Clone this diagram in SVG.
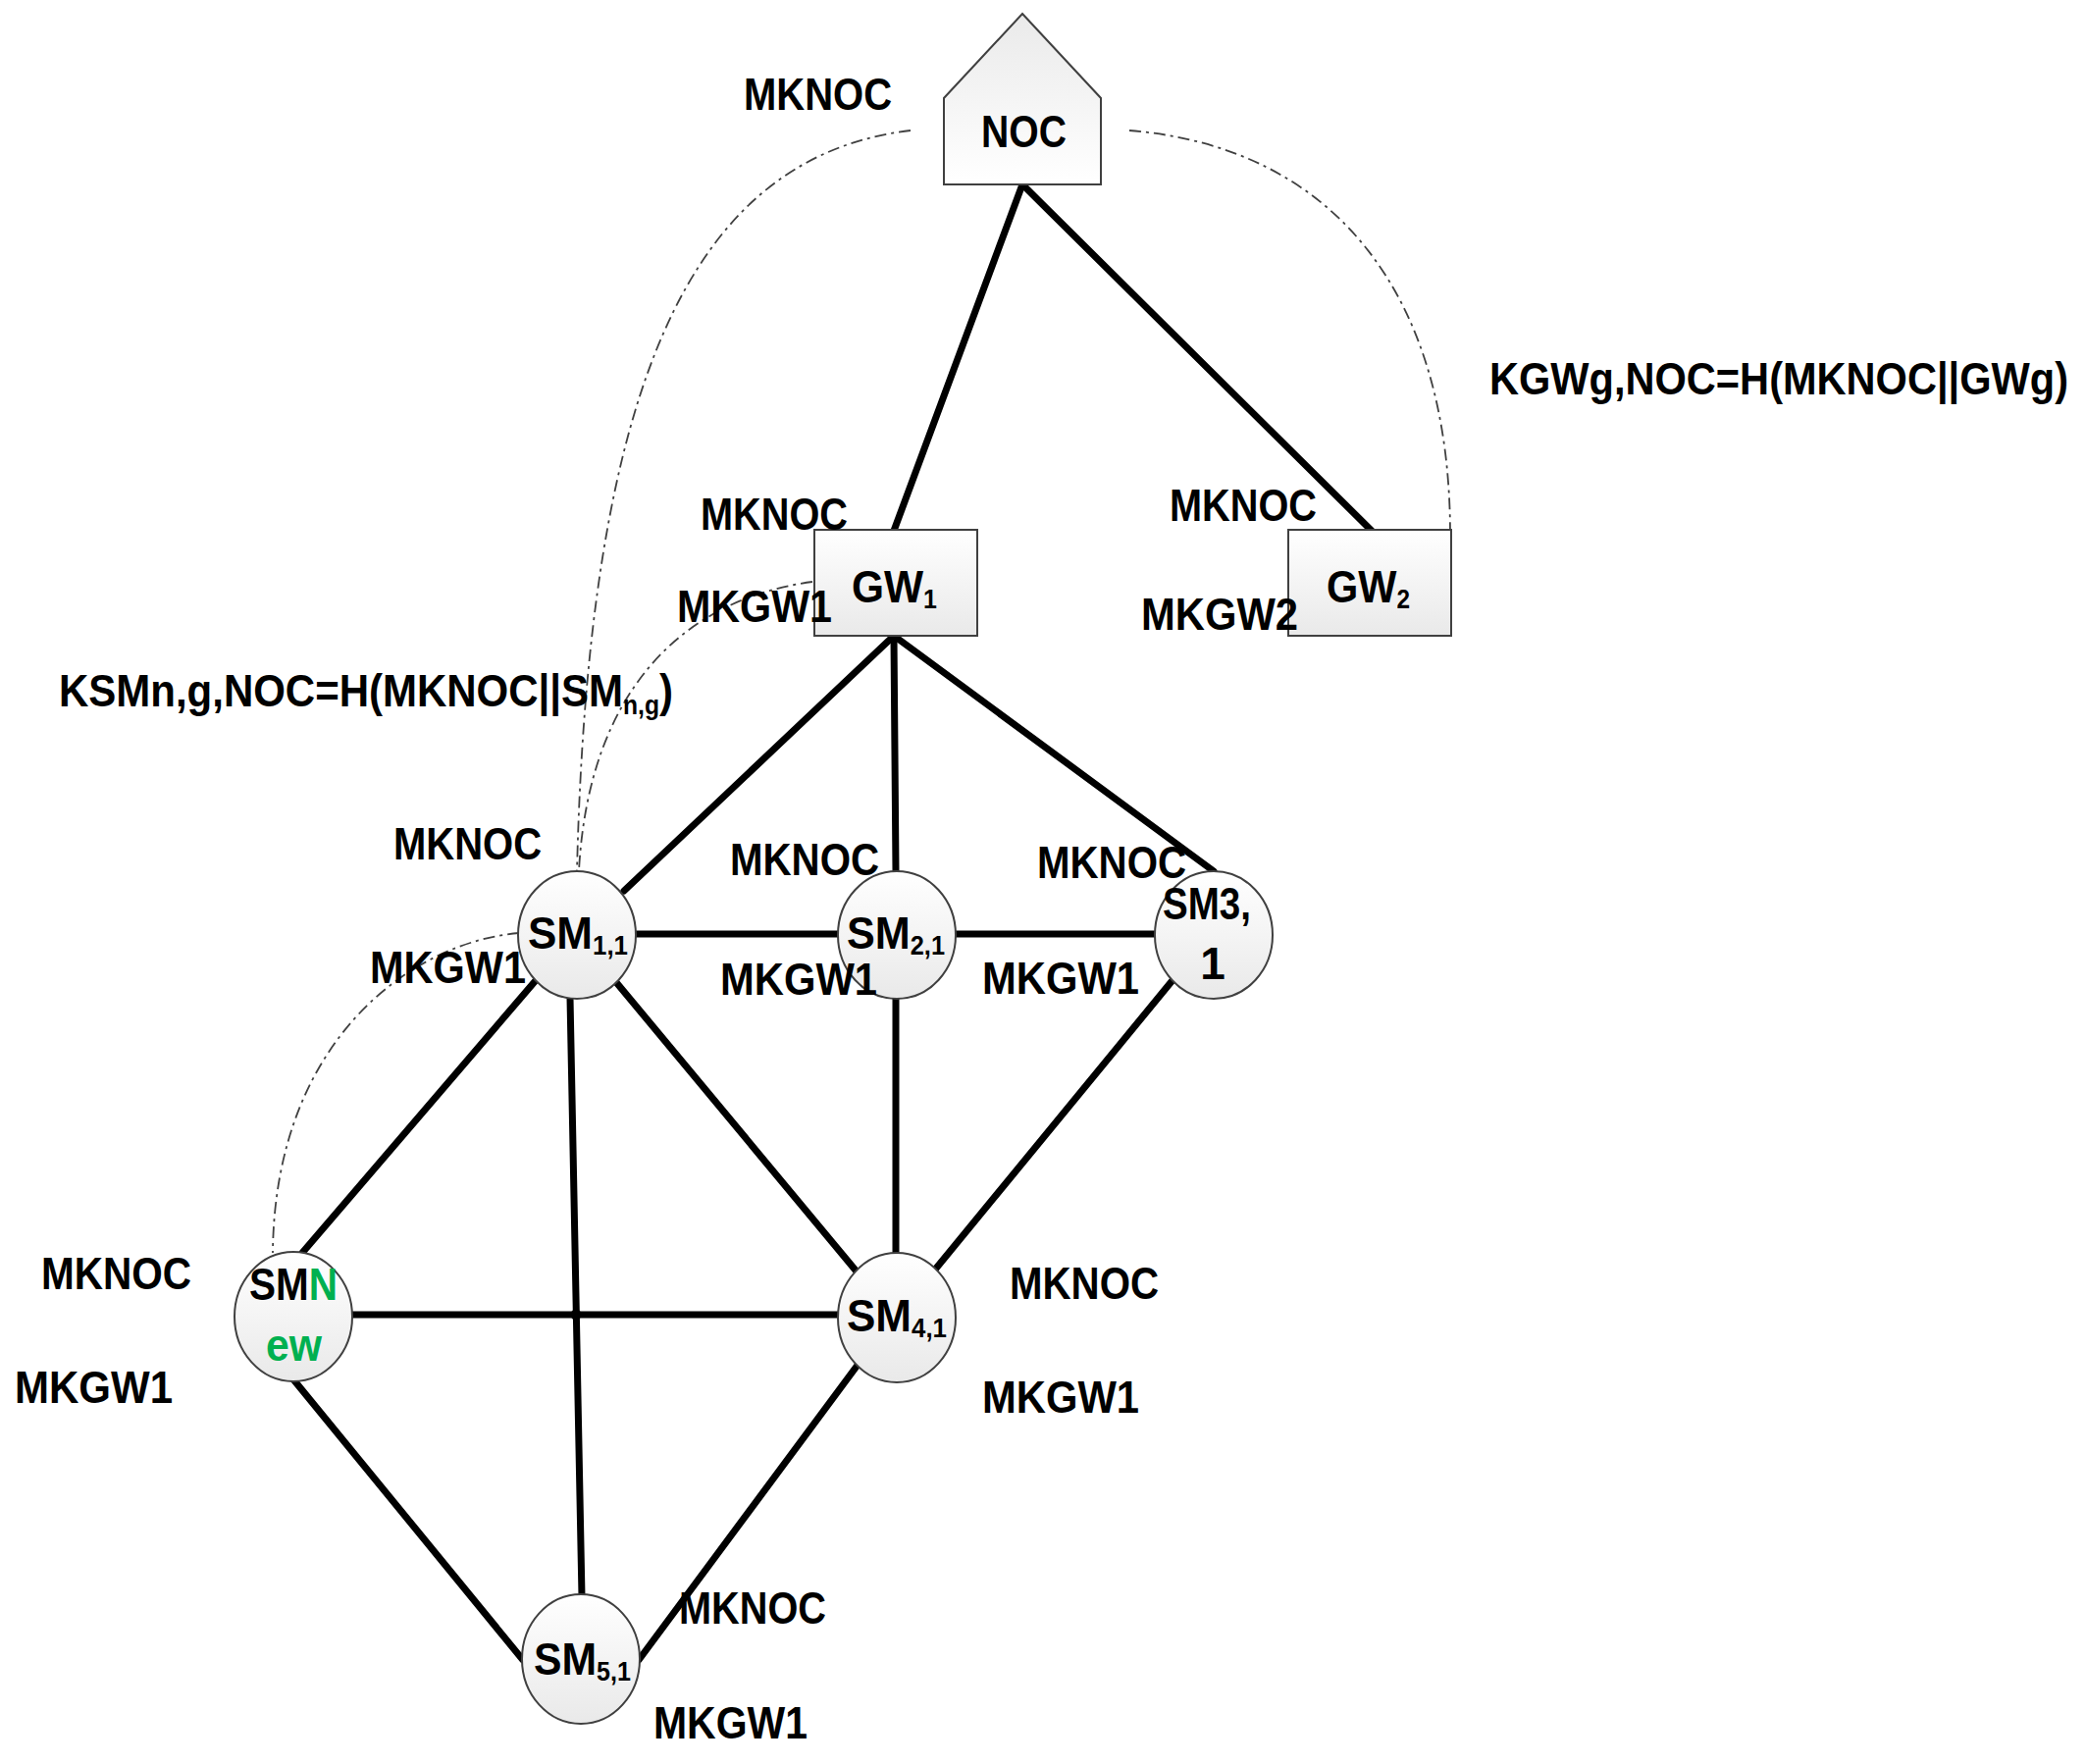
<svg xmlns="http://www.w3.org/2000/svg" width="2125" height="1798" viewBox="0 0 2125 1798">
<defs>
<linearGradient id="gNode" x1="0" y1="0" x2="0" y2="1"><stop offset="0" stop-color="#ffffff"/><stop offset="1" stop-color="#e9e9e9"/></linearGradient>
<linearGradient id="gHouse" x1="0" y1="0" x2="0" y2="1"><stop offset="0" stop-color="#eaeaea"/><stop offset="1" stop-color="#ffffff"/></linearGradient>
</defs>
<style>
.node{fill:url(#gNode);stroke:#404040;stroke-width:2}
.house{fill:url(#gHouse);stroke:#404040;stroke-width:2}
.t{font-family:"Liberation Sans",Arial,sans-serif;font-weight:bold;font-size:46px;fill:#000}
.sub{font-size:27px}
.edge{stroke:#000;stroke-width:7;stroke-linecap:round;fill:none}
.dd{stroke:#404040;stroke-width:1.8;fill:none;stroke-dasharray:12 5 3 5}
.g{fill:#00b050}
</style>
<rect width="2125" height="1798" fill="#ffffff"/>
<g id="connectors">
<path class="dd" d="M928,133 C700,160 600,400 588,888"/>
<path class="dd" d="M1151,133 C1360,150 1478,300 1478,545"/>
<path class="dd" d="M828,593 C700,610 600,700 590,888"/>
<path class="dd" d="M529,951 C420,960 280,1060 278,1277"/>
<line class="edge" x1="1042" y1="188" x2="911" y2="541"/>
<line class="edge" x1="1042" y1="188" x2="1398" y2="541"/>
<line class="edge" x1="911" y1="648" x2="636" y2="908"/>
<line class="edge" x1="911" y1="648" x2="913" y2="888"/>
<line class="edge" x1="911" y1="648" x2="1237" y2="888"/>
<line class="edge" x1="648" y1="952" x2="854" y2="952"/>
<line class="edge" x1="973" y1="952" x2="1177" y2="952"/>
<line class="edge" x1="548" y1="997" x2="308" y2="1277"/>
<line class="edge" x1="581" y1="1017" x2="593" y2="1627"/>
<line class="edge" x1="627" y1="1000" x2="873" y2="1296"/>
<line class="edge" x1="913" y1="1018" x2="913" y2="1277"/>
<line class="edge" x1="1196" y1="998" x2="953" y2="1294"/>
<line class="edge" x1="359" y1="1340" x2="855" y2="1340"/>
<circle cx="587" cy="1340" r="5.5" fill="#000"/>
<line class="edge" x1="299" y1="1406" x2="533" y2="1692"/>
<line class="edge" x1="875" y1="1390" x2="651" y2="1692"/>
</g>
<g id="NOC">
<polygon class="house" points="1042,14 1122,100 1122,188 962,188 962,100"/>
<text class="t" x="1000" y="150" textLength="87" lengthAdjust="spacingAndGlyphs">NOC</text>
</g>
<g id="GW1">
<rect class="node" x="830" y="540" width="166" height="108"/>
<text class="t" x="868" y="614" textLength="87" lengthAdjust="spacingAndGlyphs">GW<tspan class="sub" dy="6">1</tspan></text>
</g>
<g id="GW2">
<rect class="node" x="1313" y="540" width="166" height="108"/>
<text class="t" x="1352" y="614" textLength="85" lengthAdjust="spacingAndGlyphs">GW<tspan class="sub" dy="6">2</tspan></text>
</g>
<g id="SM11">
<ellipse class="node" cx="588" cy="953" rx="60" ry="65"/>
<text class="t" x="538" y="967" textLength="102" lengthAdjust="spacingAndGlyphs">SM<tspan class="sub" dy="6">1,1</tspan></text>
</g>
<g id="SM21">
<ellipse class="node" cx="914" cy="953" rx="60" ry="65"/>
<text class="t" x="863" y="967" textLength="100" lengthAdjust="spacingAndGlyphs">SM<tspan class="sub" dy="6">2,1</tspan></text>
</g>
<g id="SM31">
<ellipse class="node" cx="1237" cy="953" rx="60" ry="65"/>
<text class="t" x="1185" y="937" textLength="90" lengthAdjust="spacingAndGlyphs">SM3,</text>
<text class="t" x="1236" y="998" text-anchor="middle">1</text>
</g>
<g id="SMNew">
<ellipse class="node" cx="299" cy="1342" rx="60" ry="66"/>
<text class="t" x="254" y="1325" textLength="90" lengthAdjust="spacingAndGlyphs">SM<tspan class="g">N</tspan></text>
<text class="t g" x="271" y="1387" textLength="57" lengthAdjust="spacingAndGlyphs">ew</text>
</g>
<g id="SM41">
<ellipse class="node" cx="914" cy="1343" rx="60" ry="66"/>
<text class="t" x="863" y="1357" textLength="102" lengthAdjust="spacingAndGlyphs">SM<tspan class="sub" dy="6">4,1</tspan></text>
</g>
<g id="SM51">
<ellipse class="node" cx="592" cy="1691" rx="60" ry="66"/>
<text class="t" x="544" y="1707" textLength="99" lengthAdjust="spacingAndGlyphs">SM<tspan class="sub" dy="6">5,1</tspan></text>
</g>
<g id="labels">
<text class="t" x="758" y="112" textLength="151" lengthAdjust="spacingAndGlyphs">MKNOC</text>
<text class="t" x="1518" y="402" textLength="590" lengthAdjust="spacingAndGlyphs">KGWg,NOC=H(MKNOC||GWg)</text>
<text class="t" x="60" y="720" textLength="626" lengthAdjust="spacingAndGlyphs">KSMn,g,NOC=H(MKNOC||SM<tspan class="sub" dy="8">n,g</tspan><tspan dy="-8">)</tspan></text>
<text class="t" x="714" y="540" textLength="150" lengthAdjust="spacingAndGlyphs">MKNOC</text>
<text class="t" x="690" y="634" textLength="158" lengthAdjust="spacingAndGlyphs">MKGW1</text>
<text class="t" x="1192" y="531" textLength="150" lengthAdjust="spacingAndGlyphs">MKNOC</text>
<text class="t" x="1163" y="642" textLength="160" lengthAdjust="spacingAndGlyphs">MKGW2</text>
<text class="t" x="401" y="876" textLength="151" lengthAdjust="spacingAndGlyphs">MKNOC</text>
<text class="t" x="377" y="1002" textLength="159" lengthAdjust="spacingAndGlyphs">MKGW1</text>
<text class="t" x="744" y="892" textLength="152" lengthAdjust="spacingAndGlyphs">MKNOC</text>
<text class="t" x="734" y="1014" textLength="160" lengthAdjust="spacingAndGlyphs">MKGW1</text>
<text class="t" x="1057" y="895" textLength="152" lengthAdjust="spacingAndGlyphs">MKNOC</text>
<text class="t" x="1001" y="1013" textLength="160" lengthAdjust="spacingAndGlyphs">MKGW1</text>
<text class="t" x="42" y="1314" textLength="153" lengthAdjust="spacingAndGlyphs">MKNOC</text>
<text class="t" x="15" y="1430" textLength="161" lengthAdjust="spacingAndGlyphs">MKGW1</text>
<text class="t" x="1029" y="1324" textLength="152" lengthAdjust="spacingAndGlyphs">MKNOC</text>
<text class="t" x="1001" y="1440" textLength="160" lengthAdjust="spacingAndGlyphs">MKGW1</text>
<text class="t" x="692" y="1655" textLength="150" lengthAdjust="spacingAndGlyphs">MKNOC</text>
<text class="t" x="666" y="1772" textLength="157" lengthAdjust="spacingAndGlyphs">MKGW1</text>
</g>
</svg>
